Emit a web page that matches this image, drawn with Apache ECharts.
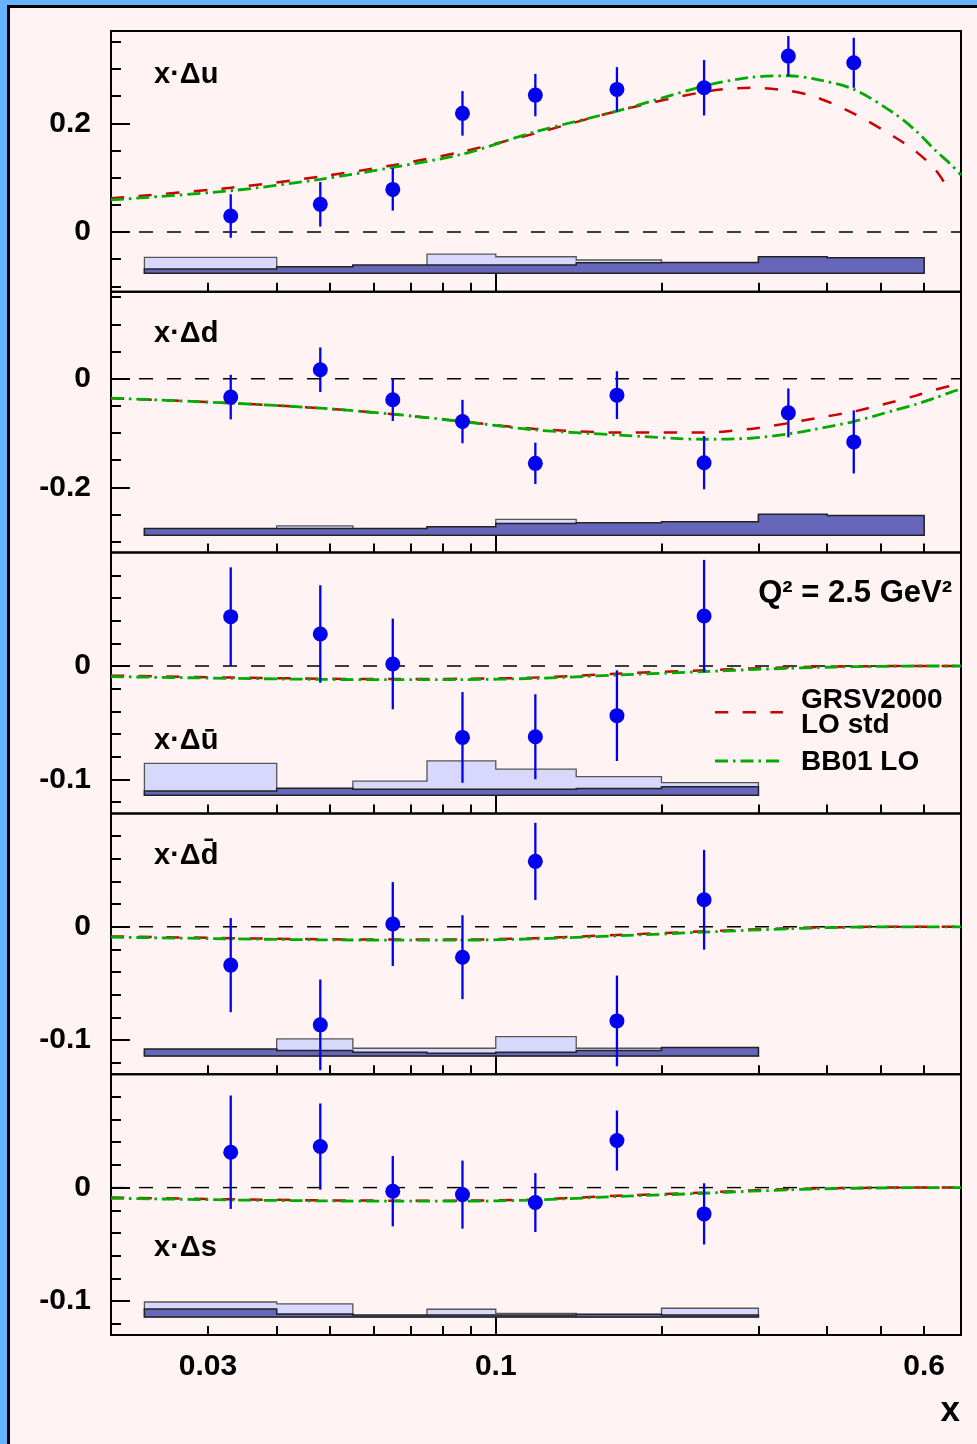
<!DOCTYPE html>
<html>
<head>
<meta charset="utf-8">
<script src="https://cdn.jsdelivr.net/npm/echarts@6/dist/echarts.min.js"></script>
<style>
html,body{margin:0;padding:0;background:#fff3f3;}
#chart{width:977px;height:1444px;}
</style>
</head>
<body>
<div id="chart"></div>
<script>
// ---------- axis ticks / labels ----------
const X_MINOR_TICKS = [0.03,0.04,0.05,0.06,0.07,0.08,0.09,0.2,0.3,0.4,0.5,0.6];
const X_MAJOR_TICKS = [0.1];
const X_TICK_LABELS = [0.03,0.1,0.6];
const X_MIN = 0.02, X_MAX = 0.7;

const Y_RANGE_U  = [-0.11, 0.37];
const Y_RANGE_D  = [-0.32, 0.16];
const Y_RANGE_SEA = [-0.13, 0.10];
const Y_MINOR_U = [-0.1,-0.05,0,0.05,0.1,0.15,0.2,0.25,0.3,0.35];
const Y_MAJOR_U = [0,0.2];
const Y_MINOR_D = [-0.3,-0.25,-0.2,-0.15,-0.1,-0.05,0,0.05,0.1,0.15];
const Y_MAJOR_D = [-0.2,0];
const Y_MINOR_SEA = [-0.12,-0.1,-0.08,-0.06,-0.04,-0.02,0,0.02,0.04,0.06,0.08];
const Y_MAJOR_SEA = [-0.1,0];

// ---------- data points (HERMES) ----------
const X_PTS = [0.033,0.048,0.065,0.087,0.118,0.166,0.239,0.34,0.447];
const DU_VAL = [0.0294,0.051,0.0785,0.2184,0.252,0.2625,0.2655,0.3238,0.3115];
const DU_ERR = [0.040,0.041,0.039,0.041,0.039,0.041,0.051,0.037,0.046];
const DD_VAL = [-0.0338,0.0166,-0.0388,-0.0788,-0.1557,-0.0302,-0.1545,-0.0628,-0.1163];
const DD_ERR = [0.041,0.041,0.039,0.040,0.038,0.044,0.049,0.045,0.058];
const X_PTS_SEA = [0.033,0.048,0.065,0.087,0.118,0.166,0.239];
const DUB_VAL = [0.0435,0.0282,0.0018,-0.063,-0.0624,-0.0438,0.0441];
const DUB_ERR = [0.0435,0.043,0.040,0.040,0.0375,0.040,0.0495];
const DDB_VAL = [-0.0338,-0.0865,0.0024,-0.0268,0.0577,-0.083,0.0238];
const DDB_ERR = [0.0415,0.040,0.037,0.037,0.034,0.040,0.044];
const DS_VAL = [0.0312,0.0362,-0.0032,-0.0062,-0.0132,0.0415,-0.0232];
const DS_ERR = [0.050,0.038,0.031,0.030,0.026,0.0265,0.027];

// ---------- systematic error bands ----------
const BIN_EDGES = [0.023,0.04,0.055,0.075,0.1,0.14,0.2,0.3,0.4,0.6];
const BIN_EDGES_SEA = [0.023,0.04,0.055,0.075,0.1,0.14,0.2,0.3];
const DU_SYS_BASE = -0.076;
const DU_SYS_LIGHT = [0.0294,0.011,0.014,0.0355,0.0305,0.0245,0.018,0.028,0.026];
const DU_SYS_DARK  = [0.008,0.012,0.0153,0.0153,0.0153,0.0195,0.020,0.0305,0.0287];
const DD_SYS_BASE = -0.288;
const DD_SYS_LIGHT = [0.011,0.0172,0.011,0.014,0.029,0.021,0.022,0.035,0.033];
const DD_SYS_DARK  = [0.0123,0.0123,0.0123,0.0154,0.0216,0.0228,0.0246,0.0388,0.0364];
const DUB_SYS_BASE = -0.1141;
const DUB_SYS_LIGHT = [0.0282,0.005,0.0126,0.0305,0.0232,0.0165,0.0112];
const DUB_SYS_DARK  = [0.0038,0.0062,0.0053,0.0053,0.0053,0.006,0.0076];
const DDB_SYS_BASE = -0.1139;
const DDB_SYS_LIGHT = [0.005,0.015,0.0068,0.0068,0.017,0.0068,0.006];
const DDB_SYS_DARK  = [0.0062,0.0047,0.0033,0.0024,0.0033,0.0047,0.0074];
const DS_SYS_BASE = -0.1141;
const DS_SYS_LIGHT = [0.0132,0.0115,0.001,0.0068,0.0032,0.002,0.0077];
const DS_SYS_DARK  = [0.0071,0.0026,0.0018,0.0018,0.0018,0.0024,0.0018];

// ---------- theory curves ----------
const CURVE_X = [0.02,0.033,0.048,0.065,0.087,0.118,0.166,0.239,0.29,0.34,0.38,0.447,0.53,0.58,0.63,0.67,0.7];
const GRSV_U = [0.062,0.0815,0.102,0.123,0.148,0.1816,0.2226,0.258,0.2655,0.26,0.249,0.218,0.175,0.148,0.114,0.072,null];
const BB_U   = [0.059,0.076,0.097,0.119,0.1435,0.1846,0.2226,0.2686,0.2846,0.2876,0.2815,0.2626,0.218,0.186,0.1496,0.125,0.105];
const GRSV_D = [-0.0357,-0.0449,-0.0542,-0.0652,-0.0788,-0.0923,-0.099,-0.099,-0.0923,-0.0818,-0.073,-0.0604,-0.042,-0.031,-0.020,-0.013,-0.008];
const BB_D   = [-0.0357,-0.0449,-0.0542,-0.0652,-0.0788,-0.0942,-0.1034,-0.1114,-0.1095,-0.1016,-0.093,-0.0788,-0.058,-0.047,-0.035,-0.025,-0.019];
const GRSV_UB = [-0.0085,-0.0102,-0.0112,-0.0115,-0.0113,-0.0102,-0.0068,-0.0038,-0.0022,-0.0012,-0.0007,-0.0003,0,0,0,0,0];
const BB_UB   = [-0.0094,-0.0109,-0.0118,-0.0121,-0.012,-0.0109,-0.008,-0.005,-0.0032,-0.002,-0.0013,-0.0006,-0.0002,0,0,0,0];
const GRSV_DB = [-0.0085,-0.0100,-0.0110,-0.0112,-0.0113,-0.0100,-0.0072,-0.0040,-0.0024,-0.0013,-0.0007,-0.0002,0,0,0,0,0];
const BB_DB   = [-0.0091,-0.0106,-0.0115,-0.0117,-0.0118,-0.0106,-0.008,-0.0047,-0.003,-0.0018,-0.001,-0.0003,0,0,0,0,0];
const GRSV_S = [-0.0088,-0.0103,-0.0112,-0.0115,-0.0115,-0.0104,-0.0072,-0.0043,-0.0025,-0.0013,-0.0008,-0.0003,0,0,0,0,0];
const BB_S   = [-0.0094,-0.0109,-0.0117,-0.012,-0.012,-0.0109,-0.0079,-0.005,-0.0032,-0.002,-0.0012,-0.0006,-0.0002,0,0,0,0];

const PANEL_LABELS = ['x·Δu','x·Δd','x·Δū','x·Δd\u0304','x·Δs'];

// ---------- layout / style ----------
const FONT = '"Liberation Sans", Arial, Helvetica, sans-serif';
const TOP0 = 31, PH = 260.8, LEFT = 111, PW = 850;
const BLUE = '#0000ee', RED = '#cc0000', GREEN = '#00aa00';
const GREEN_DASH = [13,5,2.5,5];

const panels = [
  {x:X_PTS, val:DU_VAL, err:DU_ERR, grsv:GRSV_U, bb:BB_U, edges:BIN_EDGES, light:DU_SYS_LIGHT, dark:DU_SYS_DARK, base:DU_SYS_BASE, range:Y_RANGE_U, minor:Y_MINOR_U, major:Y_MAJOR_U},
  {x:X_PTS, val:DD_VAL, err:DD_ERR, grsv:GRSV_D, bb:BB_D, edges:BIN_EDGES, light:DD_SYS_LIGHT, dark:DD_SYS_DARK, base:DD_SYS_BASE, range:Y_RANGE_D, minor:Y_MINOR_D, major:Y_MAJOR_D},
  {x:X_PTS_SEA, val:DUB_VAL, err:DUB_ERR, grsv:GRSV_UB, bb:BB_UB, edges:BIN_EDGES_SEA, light:DUB_SYS_LIGHT, dark:DUB_SYS_DARK, base:DUB_SYS_BASE, range:Y_RANGE_SEA, minor:Y_MINOR_SEA, major:Y_MAJOR_SEA},
  {x:X_PTS_SEA, val:DDB_VAL, err:DDB_ERR, grsv:GRSV_DB, bb:BB_DB, edges:BIN_EDGES_SEA, light:DDB_SYS_LIGHT, dark:DDB_SYS_DARK, base:DDB_SYS_BASE, range:Y_RANGE_SEA, minor:Y_MINOR_SEA, major:Y_MAJOR_SEA},
  {x:X_PTS_SEA, val:DS_VAL, err:DS_ERR, grsv:GRSV_S, bb:BB_S, edges:BIN_EDGES_SEA, light:DS_SYS_LIGHT, dark:DS_SYS_DARK, base:DS_SYS_BASE, range:Y_RANGE_SEA, minor:Y_MINOR_SEA, major:Y_MAJOR_SEA}
];

function fmt(v){ return String(+(+v).toPrecision(3)); }

function bandRenderer(edges, heights, base, fill, stroke, lw){
  return function(params, api){
    if (params.dataIndex !== 0) return;
    const pts = [api.coord([edges[0], base])];
    for (let k = 0; k < heights.length; k++){
      pts.push(api.coord([edges[k], base + heights[k]]));
      pts.push(api.coord([edges[k+1], base + heights[k]]));
    }
    pts.push(api.coord([edges[heights.length], base]));
    return {type:'polygon', shape:{points:pts}, style:{fill:fill, stroke:stroke, lineWidth:lw, lineJoin:'miter'}};
  };
}

function errRenderer(params, api){
  const x = api.value(0), y = api.value(1), e = api.value(2);
  const a = api.coord([x, y - e]), b = api.coord([x, y + e]);
  return {type:'line', shape:{x1:a[0], y1:a[1], x2:b[0], y2:b[1]}, style:{stroke:BLUE, lineWidth:2.3}};
}

const grids = [], xAxes = [], yAxes = [], series = [];
panels.forEach((p, i) => {
  grids.push({left:LEFT, width:PW, top:TOP0 + i*PH, height:PH, show:true, borderColor:'#000', borderWidth:2, backgroundColor:'transparent'});
  const last = i === panels.length - 1;
  xAxes.push({
    type:'log', logBase:10, gridIndex:i, min:X_MIN, max:X_MAX, position:'bottom',
    axisLine:{show:false, onZero:false}, splitLine:{show:false},
    axisTick:{show:true, inside:true, length:9, customValues:X_MINOR_TICKS, lineStyle:{color:'#000', width:2}},
    axisLabel:{show:last, customValues:X_TICK_LABELS, formatter:fmt, margin:17, color:'#000', fontSize:30, fontWeight:'bold', fontFamily:FONT}
  });
  xAxes.push({
    type:'log', logBase:10, gridIndex:i, min:X_MIN, max:X_MAX, position:'bottom',
    axisLine:{show:false, onZero:false}, splitLine:{show:false},
    axisTick:{show:true, inside:true, length:18, customValues:X_MAJOR_TICKS, lineStyle:{color:'#000', width:2}},
    axisLabel:{show:false}
  });
  yAxes.push({
    type:'value', gridIndex:i, min:p.range[0], max:p.range[1], position:'left',
    axisLine:{show:false, onZero:false}, splitLine:{show:false},
    axisTick:{show:true, inside:true, length:10, customValues:p.minor, lineStyle:{color:'#000', width:2}},
    axisLabel:{show:true, customValues:p.major, formatter:fmt, margin:20, color:'#000', fontSize:30, fontWeight:'bold', fontFamily:FONT}
  });
  yAxes.push({
    type:'value', gridIndex:i, min:p.range[0], max:p.range[1], position:'left',
    axisLine:{show:false, onZero:false}, splitLine:{show:false},
    axisTick:{show:true, inside:true, length:19, customValues:p.major, lineStyle:{color:'#000', width:2}},
    axisLabel:{show:false}
  });
  const xi = 2*i, yi = 2*i;
  // systematic bands
  series.push({type:'custom', xAxisIndex:xi, yAxisIndex:yi, z:1, silent:true,
    data:[[p.edges[0], p.base]], renderItem:bandRenderer(p.edges, p.light, p.base, '#d8d8fc', '#555555', 1.3)});
  series.push({type:'custom', xAxisIndex:xi, yAxisIndex:yi, z:2, silent:true,
    data:[[p.edges[0], p.base]], renderItem:bandRenderer(p.edges, p.dark, p.base, '#6666bb', '#222222', 1.5)});
  // zero line
  series.push({type:'line', xAxisIndex:xi, yAxisIndex:yi, z:3, silent:true, symbol:'none',
    data:[[X_MIN,0],[X_MAX,0]], lineStyle:{color:'#000', width:1.4, type:[14,14]}});
  // curves
  series.push({type:'line', xAxisIndex:xi, yAxisIndex:yi, z:4, silent:true, symbol:'none', smooth:0.3, connectNulls:false,
    data:CURVE_X.map((x,k)=>[x, p.grsv[k]]), lineStyle:{color:RED, width:2.5, type:[13.3,14.4]}});
  series.push({type:'line', xAxisIndex:xi, yAxisIndex:yi, z:5, silent:true, symbol:'none', smooth:0.3,
    data:CURVE_X.map((x,k)=>[x, p.bb[k]]), lineStyle:{color:GREEN, width:2.8, type:GREEN_DASH}});
  // error bars + points
  series.push({type:'custom', xAxisIndex:xi, yAxisIndex:yi, z:6, silent:true,
    data:p.x.map((x,k)=>[x, p.val[k], p.err[k]]), encode:{x:0, y:1}, renderItem:errRenderer});
  series.push({type:'scatter', xAxisIndex:xi, yAxisIndex:yi, z:7, silent:true, symbol:'circle', symbolSize:15,
    data:p.x.map((x,k)=>[x, p.val[k]]), itemStyle:{color:BLUE, opacity:1}});
});

function txt(text, x, y, size, align){
  return {type:'text', z:100, silent:true, style:{text:text, x:x, y:y, fill:'#000', align:align||'left', verticalAlign:'middle',
    font:'bold ' + size + 'px ' + FONT}};
}
const LABEL_BASELINES = [85, 344, 750.7, 865.7, 1257.7];
const graphics = [
  {type:'rect', z:-10, silent:true, shape:{x:0, y:0, width:977, height:5}, style:{fill:'#66b4ff'}},
  {type:'rect', z:-10, silent:true, shape:{x:0, y:0, width:7, height:1444}, style:{fill:'#66b4ff'}},
  {type:'rect', z:-9, silent:true, shape:{x:7, y:5, width:970, height:3}, style:{fill:'#000'}},
  {type:'rect', z:-9, silent:true, shape:{x:7, y:5, width:3, height:1439}, style:{fill:'#000'}},
];
PANEL_LABELS.forEach((t, i) => graphics.push(txt(t, 154, LABEL_BASELINES[i] - 10.2, 29)));
graphics.push(txt('Q² = 2.5 GeV²', 952, 593.5, 31, 'right'));
graphics.push({type:'line', z:100, silent:true, shape:{x1:715, y1:712.3, x2:783, y2:712.3}, style:{stroke:RED, lineWidth:2.5, lineDash:[13.3,14.4]}});
graphics.push({type:'line', z:100, silent:true, shape:{x1:715, y1:761, x2:783, y2:761}, style:{stroke:GREEN, lineWidth:2.8, lineDash:GREEN_DASH}});
graphics.push(txt('GRSV2000', 801, 700.2, 28));
graphics.push(txt('LO std', 801, 725.2, 28));
graphics.push(txt('BB01 LO', 801, 761.9, 28));
graphics.push(txt('x', 960, 1411.8, 35, 'right'));

const chart = echarts.init(document.getElementById('chart'), null, {renderer:'canvas'});
chart.setOption({
  backgroundColor:'#fff3f3',
  animation:false,
  grid:grids, xAxis:xAxes, yAxis:yAxes, series:series, graphic:graphics
});
</script>
</body>
</html>
